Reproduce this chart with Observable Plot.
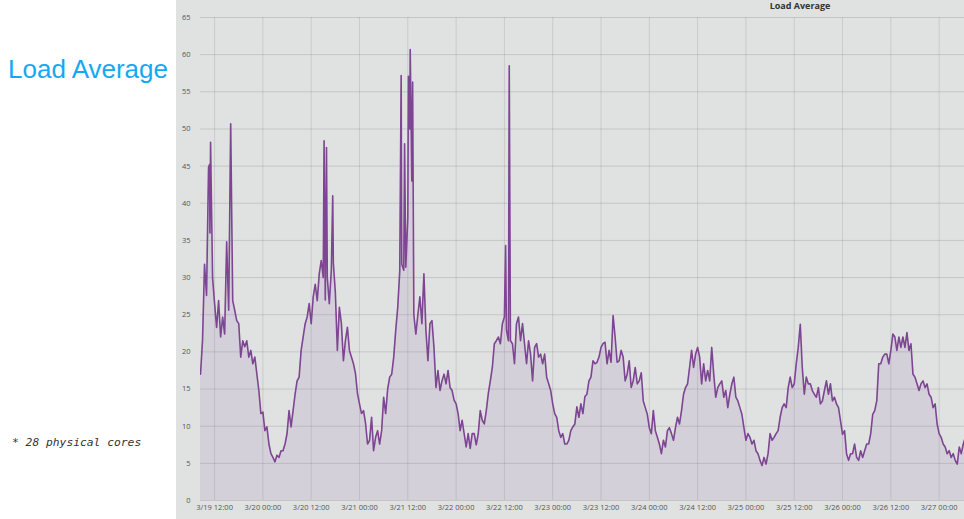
<!DOCTYPE html>
<html><head><meta charset="utf-8">
<script src="https://cdn.jsdelivr.net/npm/d3@7"></script>
<script src="https://cdn.jsdelivr.net/npm/@observablehq/plot@0.6"></script>
<style>
html,body{margin:0;padding:0;background:#fff;width:964px;height:519px;overflow:hidden;position:relative;}
#title{position:absolute;left:8px;top:55.5px;font:26px/1 "Liberation Sans",Arial,sans-serif;color:#14a8f4;white-space:nowrap;}
#note{position:absolute;left:12px;top:437px;font:italic 11.3px/1 "DejaVu Sans Mono",monospace;color:#333;white-space:pre;}
#panel{position:absolute;left:176px;top:0;width:788px;height:519px;background:#e0e2e2;overflow:hidden;}
#ctitle{position:absolute;left:524px;width:200px;top:1px;text-align:center;font:700 9px/1 "Open Sans",sans-serif;color:#333;}
#panel svg{position:absolute;left:0;top:0;}
</style></head>
<body>
<div id="title">Load Average</div>
<div id="note">* 28 physical cores</div>
<div id="panel"><div id="ctitle">Load Average</div></div>
<script>
// half-hourly load average readings; each array starts at the hour given in dayStartHours (hours after 3/19 00:00)
const day19 = [17, 21.5, 31.8, 27.6, 44.8, 48.2, 30, 26.5, 23.3, 26.9, 22, 24.7, 22.4, 34.8, 25.6, 50.7, 26.9, 25.6, 24.2, 23.8, 19.3, 21.5, 20.7, 21.5, 19.3, 20.2, 18.4, 19.3, 17, 14.8, 11.7];
const day20 = [11.9, 9.4, 9.9, 7.6, 6.3, 5.8, 5.2, 6.1, 5.8, 6.7, 6.7, 7.6, 9.0, 12.1, 9.9, 12.1, 14.3, 16.1, 16.6, 20.2, 22, 23.8, 24.7, 26.5, 23.8, 27.4, 29.1, 26.9, 30.5, 32.3, 30, 27, 30, 26.5, 31, 32, 28, 20.2, 26, 23.8, 18.8, 21.5, 23.3, 20.2, 19.3, 18.4, 17.1, 14.4];
const day21 = [13, 11.7, 12.1, 10.4, 7.6, 8.1, 11.2, 6.7, 8.5, 9.4, 7.6, 9.4, 13.9, 11.7, 15, 16.6, 17, 19.3, 22.9, 26, 30.9, 31.8, 31, 31.4, 38, 50, 43, 25, 22.4, 25, 27.4, 23.8, 30.5, 22.9, 18.8, 23.8, 24.2, 20.6, 15.2, 17.5, 14.8, 16.1, 17, 15.7, 17.5, 15.2, 14.8, 13.5];
const day22 = [13, 11.7, 9.4, 10.8, 9, 7.2, 9, 7.0, 9, 9, 7.5, 9, 12.1, 10.8, 10.3, 12.1, 14.4, 16.1, 17.9, 21.1, 21.5, 22, 21.1, 23.8, 24.7, 23, 21.5, 21.5, 21.1, 18.4, 23.8, 24.7, 21.5, 23.8, 21.1, 18.4, 21.5, 19.7, 16.1, 20.6, 21.1, 19.3, 19.7, 18.4, 19.7, 16.6, 15.7, 14.8];
const day23 = [13, 11.7, 11.2, 9.4, 8.5, 9, 7.6, 7.6, 8.1, 9.4, 9.9, 10.3, 12.6, 11.2, 13, 11.7, 14, 14.3, 16.1, 16.6, 18.8, 18.4, 18.6, 19.3, 20.6, 21.1, 21.3, 18.4, 20.2, 18.6, 24.9, 22, 18.6, 18.8, 20.2, 19.3, 16.1, 17, 18.8, 15.2, 16.1, 17.9, 15.7, 16.1, 17.2, 13.4, 12.5, 11.6];
const day24 = [9.8, 9, 12.1, 9.4, 8.5, 7.6, 6.3, 8.1, 7.2, 9.4, 9.8, 9, 8.1, 9.8, 11.2, 10.3, 12.1, 14.3, 15.2, 15.7, 17.9, 20.2, 17.9, 19.7, 20.6, 19.3, 15.7, 18.4, 16.1, 17.5, 16.1, 20.6, 17, 13.9, 15.2, 15.7, 16.1, 13.9, 14.8, 12.5, 14.3, 15.7, 16.6, 13.9, 13.4, 12.5, 11.6, 9.8];
const day25 = [8.1, 9, 8.5, 7.6, 8.1, 6.7, 6.3, 5.4, 4.7, 5.8, 4.9, 6.3, 9, 8.1, 8.5, 9, 9.4, 11.2, 12.5, 13, 12.5, 15.2, 16.6, 15.2, 15.7, 18.4, 20.6, 23.7, 17.9, 14.3, 16.6, 15.7, 15.7, 14.8, 14.3, 13.9, 15.2, 13, 13.4, 14.8, 16.1, 14.3, 15.7, 13.4, 13.9, 13, 12.5, 10.7];
const day26 = [8.9, 9.4, 6.3, 5.4, 6.3, 6.3, 7.6, 5.8, 5.4, 6.7, 5.8, 6.7, 7.6, 7.6, 9, 11.6, 12.1, 13.4, 18.4, 18.4, 19.3, 19.7, 19.7, 18.4, 20.2, 22.4, 22, 20.2, 22, 20.6, 22, 20.6, 22.6, 20.2, 21.1, 17, 16.6, 15.7, 14.8, 15.7, 16.1, 15.2, 15.7, 14.3, 13.9, 12.5, 13, 10.3];
const day27 = [9, 8.5, 7.6, 7.2, 6.3, 6.7, 5.8, 6.3, 5.4, 4.9, 7.2, 6.3, 7.6, 8.5];
const dayStartHours = [8.5, 24, 48, 72, 96, 120, 144, 168, 192];
// short-lived spikes between the half-hourly readings
const spikeHours = [10.75, 10.85, 39.2, 39.8, 41.35, 58.35, 59.2, 60.15, 60.6, 61.2, 84.3, 85.2];
const spikeValues = [45.2, 36, 48.4, 47.5, 41, 57.2, 48, 57.1, 60.7, 56.3, 34.3, 58.5];
const yTicks = [0, 5, 10, 15, 20, 25, 30, 35, 40, 45, 50, 55, 60, 65];
const xTickHours = [12, 24, 36, 48, 60, 72, 84, 96, 108, 120, 132, 144, 156, 168, 180, 192];

const t0 = Date.UTC(2015, 2, 19);
const toDate = h => new Date(t0 + h * 3600e3);
const days = [day19, day20, day21, day22, day23, day24, day25, day26, day27];
const data = [];
days.forEach((arr, k) => arr.forEach((v, i) => data.push({t: toDate(dayStartHours[k] + i * 0.5), v})));
spikeHours.forEach((h, i) => data.push({t: toDate(h), v: spikeValues[i]}));
data.sort((a, b) => a.t - b.t);
const xTicks = xTickHours.map(toDate);

const chart = Plot.plot({
  width: 788, height: 519,
  marginLeft: 24, marginRight: 0, marginTop: 17, marginBottom: 19,
  style: {background: "transparent", fontFamily: "'Open Sans', sans-serif", fontSize: "7.5px", color: "#555", overflow: "visible"},
  x: {type: "utc", domain: [toDate(8.5), toDate(198.3)]},
  y: {domain: [0, 65]},
  marks: [
    Plot.gridY(yTicks, {stroke: "#000", strokeOpacity: 0.12}),
    Plot.gridX(xTicks, {stroke: "#000", strokeOpacity: 0.1}),
    Plot.areaY(data, {x: "t", y: "v", fill: "#7d4592", fillOpacity: 0.115, clip: true}),
    Plot.lineY(data, {x: "t", y: "v", stroke: "#7d4592", strokeWidth: 1.6, clip: true}),
    Plot.axisY(yTicks, {tickSize: 0, tickPadding: 10, label: null}),
    Plot.axisX(xTicks, {tickSize: 0, tickPadding: 4, label: null, tickFormat: d3.utcFormat("%-m/%-d %H:%M")})
  ]
});
document.getElementById("panel").appendChild(chart);
</script>
</body></html>
